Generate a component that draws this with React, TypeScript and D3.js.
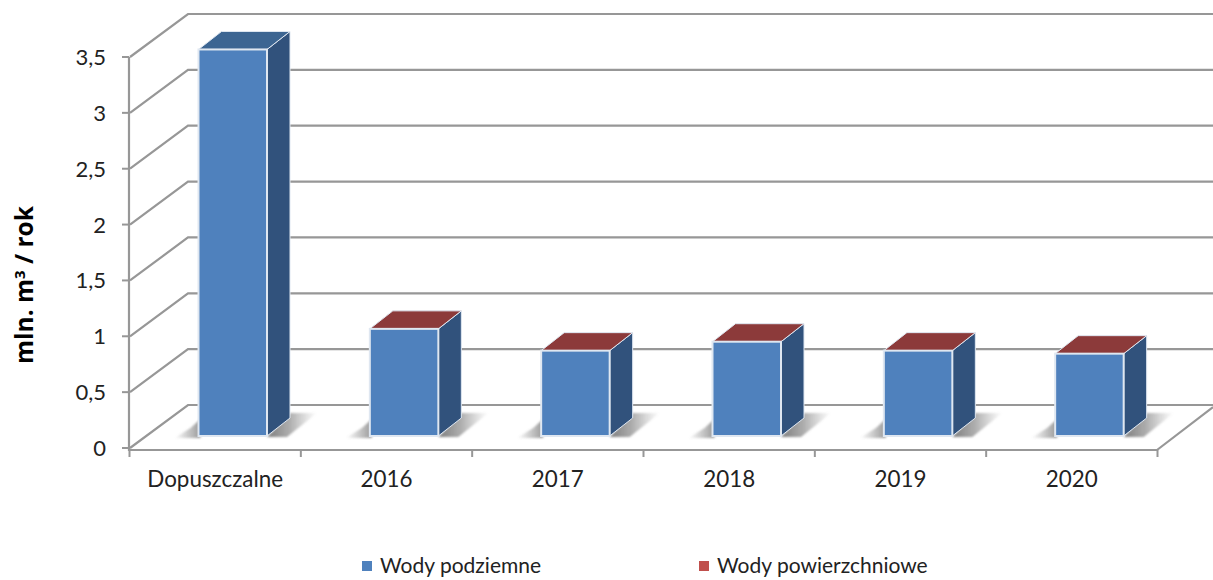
import React from 'react';
import * as d3 from 'd3';

const categories = ['Dopuszczalne', '2016', '2017', '2018', '2019', '2020'];
const groundwater = [3.46, 0.955, 0.76, 0.84, 0.76, 0.733];
const surfaceWater = [0, 0.004, 0.004, 0.004, 0.004, 0.004];
const yTicks = [0, 0.5, 1, 1.5, 2, 2.5, 3, 3.5];
const legendItems = ['Wody podziemne', 'Wody powierzchniowe'];

const width = 1213;
const height = 580;
const FONT = 'Lato, "Open Sans", sans-serif';
const GRID = '#979797';

// wall depth of the 3d box and depth of a single bar
const wallDx = 58;
const wallDy = -43;
const barDx = 23;
const barDy = -18;

const x = d3.scaleBand().domain(categories).range([129.5, 1157.5]);
const y = d3.scaleLinear().domain([0, 3.5]).range([448, 57]);

const poly = (pts: [number, number][]) => pts.map(p => p.join(',')).join(' ');

const Bar = ({ cat, i }: { cat: string; i: number }) => {
    const x0 = x(cat)! + 69;
    const x1 = x0 + 68.5;
    const yBase = y(0) - 12;
    const yTop = yBase - (y(0) - y(groundwater[i] + surfaceWater[i]));
    const topFill = surfaceWater[i] > 0 ? '#8c3a3a' : '#3c6592';
    return (
        <g>
            {/* floor shadow */}
            <polygon points={poly([[x0 - 24, yBase + 2], [x0 + 2, yBase + 2], [x0 + 2, yBase - 17], [x0 - 8, yBase - 8]])} fill="url(#shadowLeft)" filter="url(#soft)" />
            <polygon points={poly([[x1, yBase + 1], [x1 + barDx, yBase - 23], [x1 + barDx + 27, yBase - 23], [x1 + 20, yBase + 1]])} fill="url(#shadowRight)" filter="url(#soft)" />
            {/* side and top faces, then the front */}
            <polygon points={poly([[x1, yTop], [x1 + barDx, yTop + barDy], [x1 + barDx, yBase + barDy], [x1, yBase]])} fill="#31527c" stroke="#dfe7f1" strokeWidth={1} />
            <polygon points={poly([[x0, yTop], [x0 + barDx, yTop + barDy], [x1 + barDx, yTop + barDy], [x1, yTop]])} fill={topFill} stroke="#dfe7f1" strokeWidth={1} />
            <rect x={x0} y={yTop} width={x1 - x0} height={yBase - yTop} fill="#4f81bd" stroke="#dfe7f1" strokeWidth={2} />
        </g>
    );
};

export default function App() {
    return (
        <svg width={width} height={height} style={{ position: 'absolute', left: 0, top: 0, background: '#fff' }} fontFamily={FONT}>
            <defs>
                <linearGradient id="shadowLeft" x1="0" x2="1" y1="0" y2="0">
                    <stop offset="0" stopColor="#777" stopOpacity={0} />
                    <stop offset="1" stopColor="#777" stopOpacity={0.75} />
                </linearGradient>
                <linearGradient id="shadowRight" x1="0" x2="1" y1="0" y2="0">
                    <stop offset="0" stopColor="#666" stopOpacity={0.85} />
                    <stop offset="0.45" stopColor="#777" stopOpacity={0.6} />
                    <stop offset="1" stopColor="#888" stopOpacity={0} />
                </linearGradient>
                <filter id="soft" x="-20%" y="-20%" width="140%" height="140%">
                    <feGaussianBlur stdDeviation="1.2" />
                </filter>
            </defs>

            {/* back wall lines and their diagonals on the side wall */}
            {yTicks.map(t => (
                <polyline key={t} points={poly([[130, y(t)], [130 + wallDx, y(t) + wallDy], [width, y(t) + wallDy]])} stroke={GRID} strokeWidth={2.2} fill="none" />
            ))}

            {/* floor edges */}
            <polyline points={poly([[129, 450], [1157, 450], [1157 + 56, 450 + wallDy]])} fill="none" stroke={GRID} strokeWidth={2.2} />

            {/* y axis */}
            <line x1={129} x2={129} y1={y(3.5)} y2={451} stroke={GRID} strokeWidth={2.2} />
            {yTicks.map(t => (
                <g key={t}>
                    <line x1={122} x2={129} y1={y(t)} y2={y(t)} stroke={GRID} strokeWidth={2} />
                    <text x={106} y={y(t) + 8} textAnchor="end" fontSize={22} fill="#222">
                        {String(t).replace('.', ',')}
                    </text>
                </g>
            ))}

            {/* x axis ticks */}
            {[...categories.map(c => x(c)!), 1157.5].map(v => (
                <line key={v} x1={v} x2={v} y1={450} y2={457} stroke={GRID} strokeWidth={2} />
            ))}

            {categories.map((c, i) => <Bar key={c} cat={c} i={i} />)}

            {categories.map(c => (
                <text key={c} x={x(c)! + x.bandwidth() / 2} y={487} textAnchor="middle" fontSize={22.4} fill="#222">{c}</text>
            ))}

            <text transform="translate(33,285) rotate(-90)" textAnchor="middle" fontSize={24.5} fontWeight="bold" fill="#000" fontFamily='"Open Sans", sans-serif'>
                mln. m<tspan dy={-8} fontSize={15}>3</tspan><tspan dy={8}>{'\u00a0/ rok'}</tspan>
            </text>

            <rect x={362} y={561} width={10} height={10} fill="#4f81bd" />
            <text x={380} y={573} fontSize={21} fill="#222">{legendItems[0]}</text>
            <rect x={699} y={561} width={10} height={10} fill="#c0504d" />
            <text x={717} y={573} fontSize={21} fill="#222">{legendItems[1]}</text>
        </svg>
    );
}
